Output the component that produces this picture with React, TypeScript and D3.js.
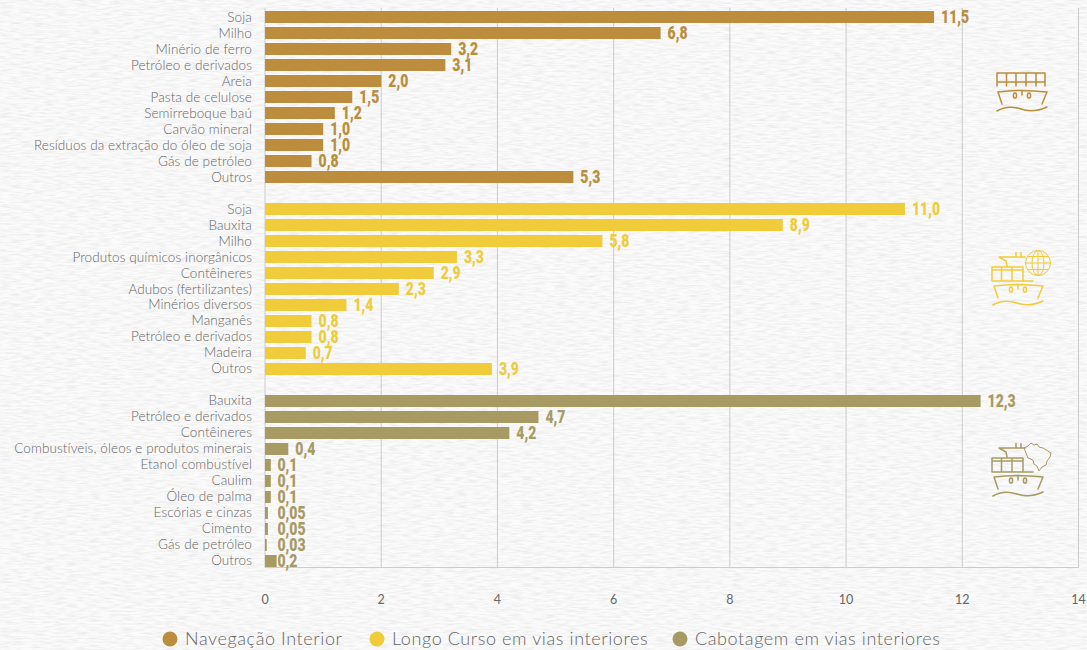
import React from "react";
import * as d3 from "d3";

const W = 1087;
const H = 650;

const interiorCats = ["Soja", "Milho", "Minério de ferro", "Petróleo e derivados", "Areia", "Pasta de celulose", "Semirreboque baú", "Carvão mineral", "Resíduos da extração do óleo de soja", "Gás de petróleo", "Outros"];
const interiorVals = [11.5, 6.8, 3.2, 3.1, 2.0, 1.5, 1.2, 1.0, 1.0, 0.8, 5.3];
const interiorLabels = ["11,5", "6,8", "3,2", "3,1", "2,0", "1,5", "1,2", "1,0", "1,0", "0,8", "5,3"];

const longoCats = ["Soja", "Bauxita", "Milho", "Produtos químicos inorgânicos", "Contêineres", "Adubos (fertilizantes)", "Minérios diversos", "Manganês", "Petróleo e derivados", "Madeira", "Outros"];
const longoVals = [11.0, 8.9, 5.8, 3.3, 2.9, 2.3, 1.4, 0.8, 0.8, 0.7, 3.9];
const longoLabels = ["11,0", "8,9", "5,8", "3,3", "2,9", "2,3", "1,4", "0,8", "0,8", "0,7", "3,9"];

const cabotagemCats = ["Bauxita", "Petróleo e derivados", "Contêineres", "Combustíveis, óleos e produtos minerais", "Etanol combustível", "Caulim", "Óleo de palma", "Escórias e cinzas", "Cimento", "Gás de petróleo", "Outros"];
const cabotagemVals = [12.3, 4.7, 4.2, 0.4, 0.1, 0.1, 0.1, 0.05, 0.05, 0.03, 0.2];
const cabotagemLabels = ["12,3", "4,7", "4,2", "0,4", "0,1", "0,1", "0,1", "0,05", "0,05", "0,03", "0,2"];

const xTicks = [0, 2, 4, 6, 8, 10, 12, 14];
const seriesNames = ["Navegação Interior", "Longo Curso em vias interiores", "Cabotagem em vias interiores"];
const seriesColors = ["#bb8d3c", "#f0cb3a", "#a79a63"];

const uiFont = "Lato, 'Open Sans', sans-serif";
const valueFont = "Roboto, sans-serif";
const labelGray = "#666666";
const gridGray = "#cccccc";

const groups = [
  { cats: interiorCats, vals: interiorVals, labels: interiorLabels },
  { cats: longoCats, vals: longoVals, labels: longoLabels },
  { cats: cabotagemCats, vals: cabotagemVals, labels: cabotagemLabels },
];

// One row per bar, with an empty spacer row between the groups.
type Row = { key: string; cat: string; val: number; label: string; group: number };
const rows: Row[] = groups.flatMap((g, gi) =>
  g.cats.map((cat, i) => ({ key: `${gi}-${i}`, cat, val: g.vals[i], label: g.labels[i], group: gi }))
);
const rowKeys: string[] = [];
groups.forEach((g, gi) => {
  g.cats.forEach((_, i) => rowKeys.push(`${gi}-${i}`));
  if (gi < groups.length - 1) rowKeys.push(`gap-${gi}`);
});

const x = d3.scaleLinear().domain([0, 14]).range([265, 1078.5]);
const barEnd = d3.scaleLinear().domain([0, 14]).range([265, 1079.5]);
const y = d3.scaleBand<string>().domain(rowKeys).range([9, 569]).paddingInner(0.25).paddingOuter(0.125);
// Category names run on a marginally tighter step than the bars.
const yCat = d3.scaleBand<string>().domain(rowKeys).range([9, 568]);
const plotTop = 8;
const plotBottom = 567.5;

// Small labels sit flush beside the axis; the others follow the end of their bar.
const labelX = (v: number) => (v <= 0.2 ? 277.5 : barEnd(v) + 7);

// Container ship with its cargo stack, hull, portholes and wave line.
function Ship({ tx, ty, color, crane }: { tx: number; ty: number; color: string; crane: boolean }) {
  return (
    <g transform={`translate(${tx},${ty})`} fill="none" stroke={color} strokeWidth={1.5} strokeLinecap="round" strokeLinejoin="round">
      {crane ? (
        <path d="M0,14 V0 H31 M9.5,0 V14 M20,0 V14 M31,0 V14 M0,3 H31 M0,14 H41 M7,-10 H33 M24,-14.5 V-10 M29,-14.5 V-10 M7,-10 L14,-6 L15,-1" />
      ) : (
        <path d="M1,0 H49 V13 M1,0 V13 M10.5,0 V13 M20,0 V13 M30,0 V13 M40,0 V13 M1,9 H49" />
      )}
      <path d="M2,19 C16,17 34,17 51,19 L46,31 M2,19 L6,31 M26,17.5 V22" />
      <ellipse cx={19} cy={22.5} rx={1.6} ry={2.6} />
      <ellipse cx={33} cy={22.5} rx={1.6} ry={2.6} />
      <path d="M1,38 C9,33 16,33 25,36 C33,39 42,38 51,34" />
    </g>
  );
}

function Globe({ cx, cy, color }: { cx: number; cy: number; color: string }) {
  return (
    <g transform={`translate(${cx},${cy})`} fill="none" stroke={color} strokeWidth={1}>
      <circle r={12.5} />
      <ellipse rx={6} ry={12.5} />
      <path d="M0,-12.5 V12.5 M-12.5,0 H12.5 M-10.5,-6.5 H10.5 M-10.5,6.5 H10.5" />
    </g>
  );
}

function BrazilMap({ tx, ty, color }: { tx: number; ty: number; color: string }) {
  return (
    <path
      transform={`translate(${tx},${ty})`}
      fill="none"
      stroke={color}
      strokeWidth={1}
      strokeLinejoin="round"
      d="M0,5 L4,3 L7,0 L10,2 L13,1 L15,4 L19,5 L27,10 L26,14 L23,18 L22,22 L18,24 L15,28 L13,23 L10,21 L9,17 L4,15 L2,10 Z"
    />
  );
}

export default function App() {
  return (
    <svg width={W} height={H} style={{ position: "absolute", left: 0, top: 0, display: "block" }}>
      <defs>
        {/* Pale woven paper grain stretched along the horizontal */}
        <filter id="paper" x="0" y="0" width="100%" height="100%">
          <feTurbulence type="fractalNoise" baseFrequency="0.09 0.55" numOctaves={2} seed={7} />
          <feColorMatrix type="matrix" values="0 0 0 0 0.78  0 0 0 0 0.78  0 0 0 0 0.78  1.6 0 0 0 -0.62" />
        </filter>
      </defs>
      <rect width={W} height={H} fill="#fbfbfb" />
      <rect width={W} height={H} filter="url(#paper)" />

      {xTicks.map((t) => (
        <g key={t}>
          <line x1={x(t)} x2={x(t)} y1={plotTop} y2={plotBottom} stroke={gridGray} strokeWidth={1} />
          <text x={x(t)} y={604} textAnchor="middle" fontFamily={uiFont} fontSize={12.5} fill={labelGray}>{t}</text>
        </g>
      ))}
      <line x1={265} x2={1078.5} y1={plotBottom} y2={plotBottom} stroke={gridGray} strokeWidth={1} />

      {rows.map((r) => {
        const cy = y(r.key)! + y.bandwidth() / 2;
        const catY = yCat(r.key)! + yCat.bandwidth() / 2;
        return (
          <g key={r.key}>
            <rect x={barEnd(0)} y={y(r.key)} width={barEnd(r.val) - barEnd(0)} height={y.bandwidth()} fill={seriesColors[r.group]} />
            <text x={252} y={catY + 0.3} dy="0.35em" textAnchor="end" fontFamily={uiFont} fontWeight={300} fontSize={13.5} letterSpacing={0.1} fill={labelGray}>{r.cat}</text>
            <text
              transform={`translate(${labelX(r.val)},${cy - 0.6}) scale(0.8,1)`}
              dy="0.36em"
              fontFamily={valueFont}
              fontWeight={900}
              fontSize={17.5}
              fill={seriesColors[r.group]}
            >{r.label}</text>
          </g>
        );
      })}

      <Ship tx={996} ty={73} color={seriesColors[0]} crane={false} />
      <Ship tx={992} ty={267} color={seriesColors[1]} crane={true} />
      <Globe cx={1038} cy={263} color={seriesColors[1]} />
      <Ship tx={992} ty={458} color={seriesColors[2]} crane={true} />
      <BrazilMap tx={1024} ty={443} color={seriesColors[2]} />

      {seriesNames.map((name, i) => {
        const cxs = [170, 377, 680];
        return (
          <g key={name}>
            <circle cx={cxs[i]} cy={639} r={7.5} fill={seriesColors[i]} />
            <text x={cxs[i] + 15} y={645} fontFamily={uiFont} fontWeight={300} fontSize={18} letterSpacing={0.6} fill={labelGray}>{name}</text>
          </g>
        );
      })}
    </svg>
  );
}
